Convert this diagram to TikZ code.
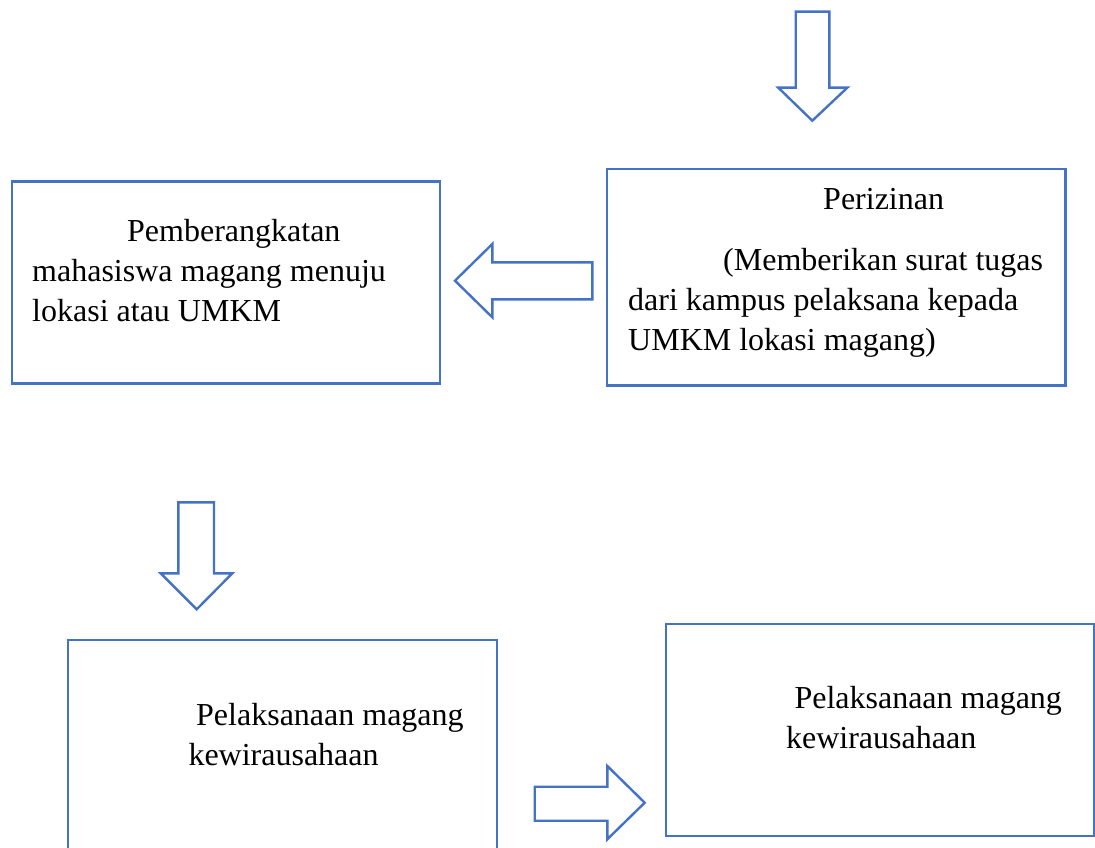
\documentclass[tikz,border=0pt]{standalone}
\usepackage{fontspec}
\setmainfont{Liberation Serif}
\definecolor{officeblue}{HTML}{4472C4}
\begin{document}
\begin{tikzpicture}[x=1pt,y=-1pt,
  box/.style={draw=officeblue,line width=2.4pt,rectangle,inner sep=0pt},
  blockarrow/.style={draw=officeblue,line width=2.4pt,line join=miter,fill=white},
  txt/.style={anchor=base west,inner sep=0pt,font=\fontsize{32}{40}\selectfont}]
\clip (0,0) rectangle (1095,848);
\fill[white] (0,0) rectangle (1095,848);

% boxes
\node[box,minimum width=428pt,minimum height=202pt] (berangkat) at (226,282.5) {};
\node[box,minimum width=458.5pt,minimum height=216.5pt] (izin) at (836.25,277.25) {};
\node[box,minimum width=429pt,minimum height=300pt] (pelaksana1) at (282.5,790) {};
\node[box,minimum width=428pt,minimum height=212pt] (pelaksana2) at (880,730) {};

% texts
\node[txt] (t1) at (127,241.7) {Pemberangkatan};
\node[txt] (t2) at (32,281) {mahasiswa magang menuju};
\node[txt] (t3) at (32,321.7) {lokasi atau UMKM};

\node[txt] (t4) at (823,209.3) {Perizinan};
\node[txt] (t5) at (723,270.7) {(Memberikan surat tugas};
\node[txt] (t6) at (628,310.7) {dari kampus pelaksana kepada};
\node[txt] (t7) at (628,350.7) {UMKM lokasi magang)};

\node[txt] (t8) at (196,725) {Pelaksanaan magang};
\node[txt] (t9) at (188.3,765) {kewirausahaan};

\node[txt] (t10) at (794.3,708.3) {Pelaksanaan magang};
\node[txt] (t11) at (785.9,748.3) {kewirausahaan};

% block arrows
% top down arrow
\draw[blockarrow] (795.7,11.7) -- (829.3,11.7) -- (829.3,87.7) -- (847.3,87.7)
  -- (812.3,120.7) -- (778.3,87.7) -- (795.7,87.7) -- cycle;
% left arrow
\draw[blockarrow] (592.3,262.3) -- (592.3,299.3) -- (492.3,299.3) -- (492.3,317.3)
  -- (455,280.7) -- (492.3,244) -- (492.3,262.3) -- cycle;
% second down arrow
\draw[blockarrow] (178.3,502.3) -- (214,502.3) -- (214,573.3) -- (232.3,573.3)
  -- (196.7,609.3) -- (160.7,573.3) -- (178.3,573.3) -- cycle;
% right arrow
\draw[blockarrow] (534.7,786.7) -- (607.3,786.7) -- (607.3,766) -- (644.7,802.7)
  -- (607.3,839.3) -- (607.3,820.7) -- (534.7,820.7) -- cycle;
\end{tikzpicture}
\end{document}
